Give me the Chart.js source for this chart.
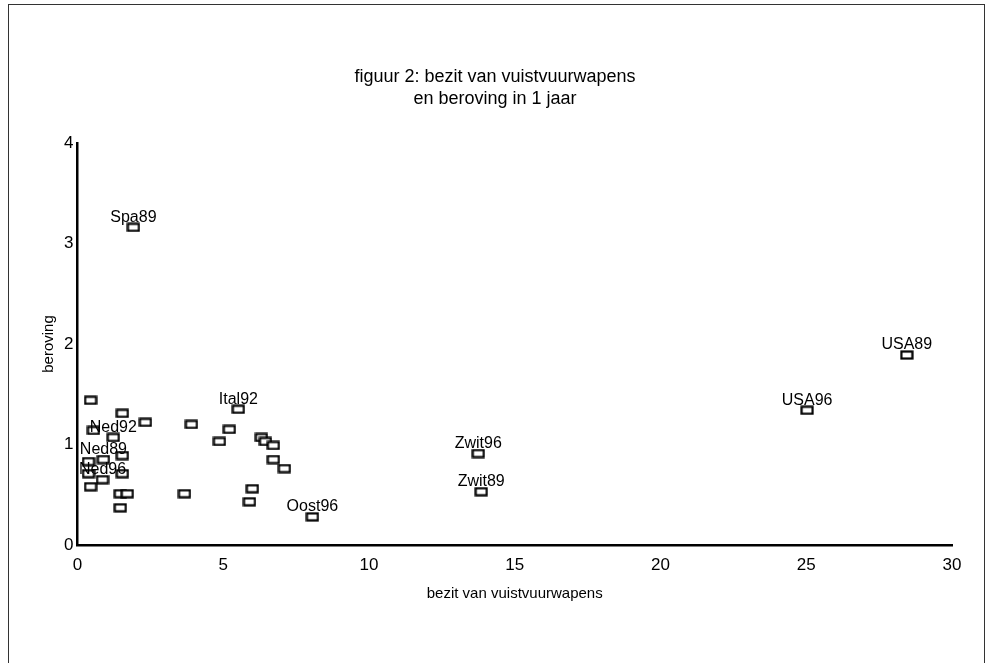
<!DOCTYPE html>
<html>
<head>
<meta charset="utf-8">
<script src="https://cdn.jsdelivr.net/npm/chart.js@4/dist/chart.umd.min.js"></script>
<style>
  body { margin: 0; background: #fff; }
  #wrap { position: relative; width: 992px; height: 663px; overflow: hidden; }
  #frame { position: absolute; left: 8px; top: 4px; width: 975px; height: 700px; border: 1px solid #333; pointer-events: none; }
</style>
</head>
<body>
<div id="wrap">
  <canvas id="mycanvas" width="992" height="663"></canvas>
  <div id="frame"></div>
</div>
<script>
// point labels (empty = unlabelled), firearm ownership (x) and robbery (y)
var names = ["Spa89", "USA89", "USA96", "Zwit96", "Zwit89", "Oost96", "Ital92", "Ned92", "Ned89", "Ned96",
             "", "", "", "", "", "", "", "", "", "", "", "",
             "", "", "", "", "", "", "", "", "", "", ""];
var bezit = [1.92, 28.45, 25.03, 13.75, 13.85, 8.06, 5.52, 1.23, 0.89, 0.86,
             0.45, 1.54, 2.33, 0.55, 1.54, 0.38, 0.38, 1.54, 0.45, 1.47, 1.71, 1.47,
             3.91, 5.21, 4.87, 6.31, 6.45, 6.72, 6.72, 7.10, 3.67, 6.00, 5.90];
var beroving = [3.16, 1.89, 1.34, 0.91, 0.53, 0.28, 1.35, 1.07, 0.85, 0.65,
                1.44, 1.31, 1.22, 1.14, 0.89, 0.83, 0.71, 0.71, 0.58, 0.51, 0.51, 0.37,
                1.20, 1.15, 1.03, 1.07, 1.03, 0.99, 0.85, 0.76, 0.51, 0.56, 0.43];
var xTicks = [0, 5, 10, 15, 20, 25, 30];
var yTicks = [0, 1, 2, 3, 4];

var font = "'Liberation Sans', Arial, Helvetica, sans-serif";

// small hollow rectangle used as marker
var box = document.createElement("canvas");
box.width = 14; box.height = 10;
var bctx = box.getContext("2d");
bctx.fillStyle = "#fff";
bctx.fillRect(1, 1, 12, 8);
bctx.strokeStyle = "#000";
bctx.lineWidth = 2.2;
bctx.strokeRect(1.5, 1.5, 11, 7);

var points = bezit.map(function (x, i) { return { x: x, y: beroving[i] }; });

var labelPlugin = {
  id: "pointNames",
  afterDatasetsDraw: function (chart) {
    var ctx = chart.ctx;
    var meta = chart.getDatasetMeta(0);
    ctx.save();
    ctx.font = "16px " + font;
    ctx.fillStyle = "#000";
    ctx.textAlign = "center";
    ctx.textBaseline = "bottom";
    meta.data.forEach(function (el, i) {
      if (names[i]) ctx.fillText(names[i], el.x, el.y - 2);
    });
    ctx.restore();
  }
};

var ctx = document.getElementById("mycanvas").getContext("2d");
var chart = new Chart(ctx, {
  type: "scatter",
  data: {
    datasets: [{
      data: points,
      pointStyle: box,
      pointRadius: 6,
      pointHoverRadius: 6
    }]
  },
  options: {
    responsive: false,
    animation: false,
    layout: { padding: { left: 38, right: 40, top: 66, bottom: 59 } },
    plugins: {
      legend: { display: false },
      tooltip: { enabled: false },
      title: {
        display: true,
        text: ["figuur 2: bezit van vuistvuurwapens", "en beroving in 1 jaar"],
        color: "#000",
        font: { family: font, size: 18, weight: "normal", lineHeight: 1.22 },
        padding: { top: 0, bottom: 33 }
      }
    },
    scales: {
      x: {
        type: "linear",
        min: 0, max: 30,
        afterBuildTicks: function (s) { s.ticks = xTicks.map(function (v) { return { value: v }; }); },
        grid: { display: false, drawTicks: false },
        border: { display: true, color: "#000", width: 2.5 },
        ticks: { color: "#000", padding: 12, font: { family: font, size: 17, lineHeight: 1 } },
        title: { display: true, text: "bezit van vuistvuurwapens", color: "#000",
                 font: { family: font, size: 15, lineHeight: 1 }, padding: { top: 0, bottom: 3 } }
      },
      y: {
        type: "linear",
        min: 0, max: 4,
        afterBuildTicks: function (s) { s.ticks = yTicks.map(function (v) { return { value: v }; }); },
        grid: { display: false, drawTicks: false },
        border: { display: true, color: "#000", width: 2.5 },
        ticks: { color: "#000", padding: 4, font: { family: font, size: 17 } },
        title: { display: true, text: "beroving", color: "#000",
                 font: { family: font, size: 15 }, padding: { top: 2, bottom: 2 } }
      }
    }
  },
  plugins: [labelPlugin]
});
</script>
</body>
</html>
